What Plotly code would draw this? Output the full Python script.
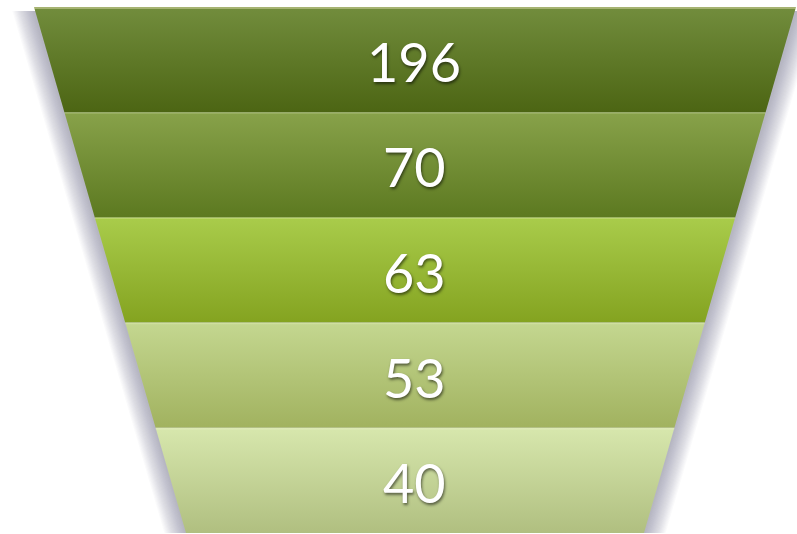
import plotly.graph_objects as go

stages = ["Stage 1", "Stage 2", "Stage 3", "Stage 4", "Stage 5"]
values = [196, 70, 63, 53, 40]
top_colors = ["#728d3d", "#88a24a", "#a9cc4b", "#c4d790", "#d7e7ad"]
bottom_colors = ["#4c6513", "#5c7920", "#84a320", "#a1b25f", "#b0bf80"]

W, H = 797, 534
cx = 415.0
y_top_px, y_bot_px = 7.0, 533.0
half_top, half_bot = 381.0, 229.0
n = len(values)
band_h = (y_bot_px - y_top_px) / n


def half_at(ypx):
    t = (ypx - y_top_px) / (y_bot_px - y_top_px)
    return half_top + (half_bot - half_top) * t


def Y(ypx):
    return H - ypx


fig = go.Figure()

# soft shadow layers around the whole funnel
for k in range(18, 0, -1):
    hx_t = half_at(y_top_px) + k * 1.2
    hx_b = half_at(y_bot_px) + k * 1.2
    xs = [cx - hx_t, cx + hx_t, cx + hx_b, cx - hx_b, cx - hx_t]
    ys = [Y(y_top_px + 4), Y(y_top_px + 4), Y(y_bot_px), Y(y_bot_px), Y(y_top_px + 4)]
    fig.add_trace(go.Scatter(x=xs, y=ys, fill="toself", mode="lines",
                             line=dict(width=0), fillcolor="rgba(120,110,135,0.035)",
                             hoverinfo="skip", showlegend=False))

for i, (s, v) in enumerate(zip(stages, values)):
    yt = y_top_px + i * band_h
    yb = yt + band_h
    ht, hb = half_at(yt), half_at(yb)
    xs = [cx - ht, cx + ht, cx + hb, cx - hb, cx - ht]
    ys = [Y(yt), Y(yt), Y(yb), Y(yb), Y(yt)]
    fig.add_trace(go.Scatter(
        x=xs, y=ys, fill="toself", mode="lines", line=dict(width=0),
        fillgradient=dict(type="vertical", start=Y(yb), stop=Y(yt),
                          colorscale=[[0, bottom_colors[i]], [1, top_colors[i]]]),
        name=s, hoverinfo="skip", showlegend=False))
    # thin highlight at band top
    fig.add_trace(go.Scatter(
        x=[cx - ht, cx + ht], y=[Y(yt) - 1, Y(yt) - 1], mode="lines",
        line=dict(width=1.2, color="rgba(255,255,230,0.2)" if i else "rgba(230,225,180,0.9)"),
        hoverinfo="skip", showlegend=False))
    fig.add_annotation(x=cx - 1, y=Y((yt + yb) / 2 + 2), text=str(v), showarrow=False,
                       font=dict(family="Lato, Open Sans, sans-serif", size=54, color="white",
                                 shadow="1px 2px 3px rgba(0,0,0,0.55)"),
                       xanchor="center", yanchor="middle")

fig.update_layout(
    width=W, height=H, margin=dict(l=0, r=0, t=0, b=0),
    paper_bgcolor="white", plot_bgcolor="white",
    xaxis=dict(range=[0, W], visible=False, fixedrange=True),
    yaxis=dict(range=[0, H], visible=False, fixedrange=True),
)
fig.write_html("out.html")
